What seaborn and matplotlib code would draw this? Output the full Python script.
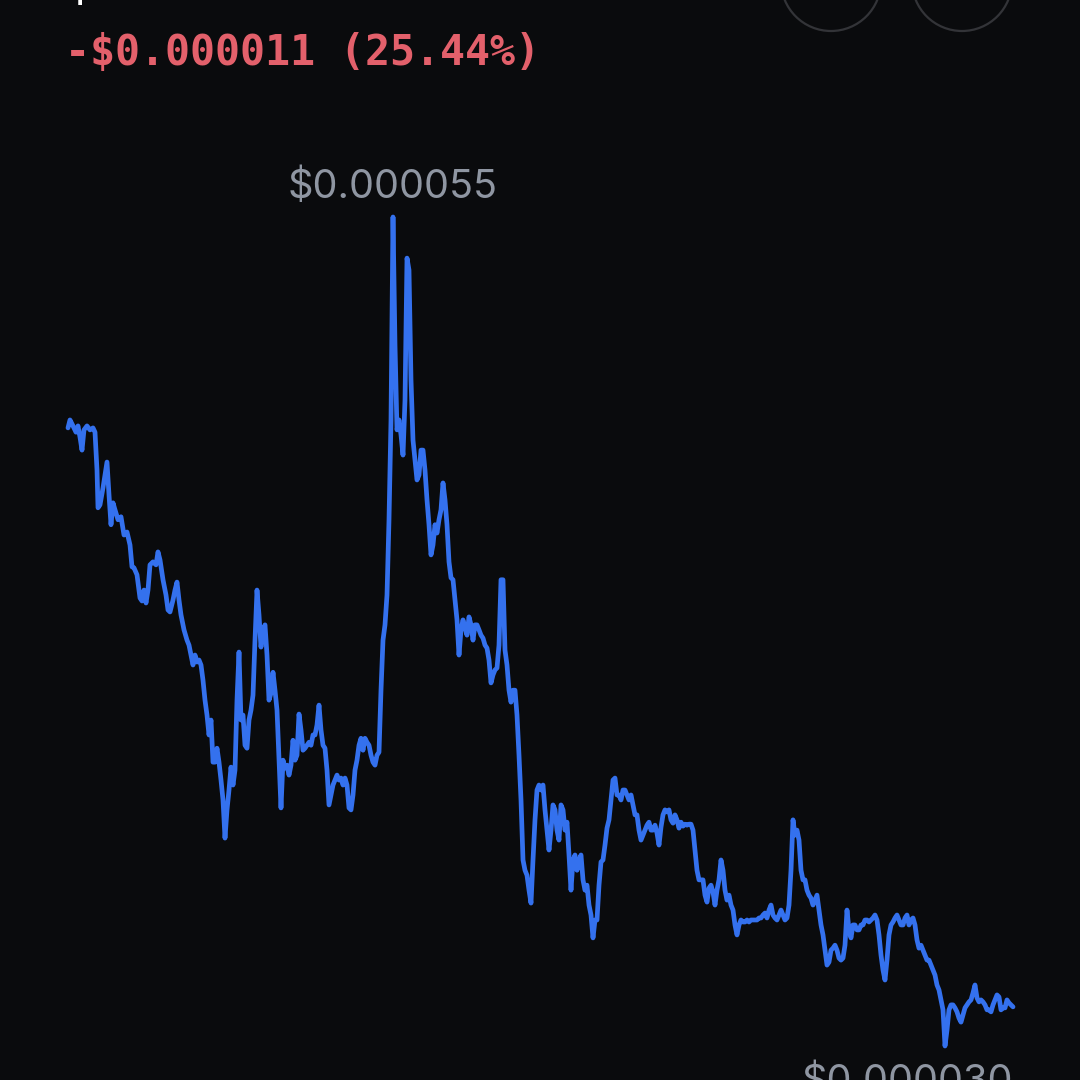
import seaborn as sns
import pandas as pd
import matplotlib.pyplot as plt
from matplotlib.patches import Circle

# price in micro-dollars (1e-6 USD) left to right
prices = [
    48.64, 48.88, 48.70, 48.51, 48.70, 48.36, 47.97, 48.58, 48.70, 48.58,
    48.64, 48.51, 47.37, 46.23, 46.32, 46.83, 47.22, 47.61, 46.62, 45.72,
    46.38, 46.17, 45.87, 45.96, 45.41, 45.50, 45.11, 44.45, 44.42, 44.21,
    43.51, 43.42, 43.75, 43.36, 43.75, 44.51, 44.60, 44.51, 44.90, 44.66,
    44.06, 43.60, 43.15, 43.09, 43.45, 43.75, 43.99, 43.45, 43.00, 42.55,
    42.24, 42.09, 41.79, 41.49, 41.79, 41.58, 41.64, 41.49, 41.03, 40.43,
    39.98, 39.38, 39.83, 38.56, 38.56, 38.98, 38.56, 38.02, 37.42, 36.27,
    37.12, 37.72, 38.41, 37.87, 38.32, 40.43, 41.88, 39.83, 39.98, 39.07,
    38.98, 39.83, 40.13, 40.58, 42.24, 43.75, 43.00, 42.03, 42.55, 42.70,
    41.79, 40.43, 40.64, 41.27, 40.73, 40.13, 38.62, 37.18, 38.62, 38.38,
    38.47, 38.17, 38.47, 39.22, 38.62, 38.77, 40.01, 39.53, 38.92, 38.98,
    39.07, 39.16, 39.07, 39.38, 39.38, 39.68, 40.28, 39.53, 39.07, 38.98,
    38.32, 37.27, 37.57, 37.87, 38.02, 38.17, 38.02, 38.08, 37.87, 38.08,
    37.87, 37.18, 37.12, 37.57, 38.32, 38.62, 39.07, 39.28, 38.92, 39.28,
    39.16, 39.07, 38.77, 38.56, 38.47, 38.77, 38.86, 40.73, 42.24, 42.70,
    43.60, 45.87, 48.88, 55.00, 51.14, 48.58, 48.88, 48.43, 47.82, 49.48,
    53.76, 53.40, 50.09, 48.27, 47.67, 47.07, 47.22, 47.97, 47.97, 47.37,
    46.47, 45.72, 44.81, 45.11, 45.72, 45.47, 45.87, 46.17, 46.98, 46.47,
    45.72, 44.60, 44.12, 44.06, 43.45, 42.85, 41.79, 42.55, 42.85, 42.61,
    42.39, 42.94, 42.70, 42.24, 42.70, 42.70, 42.55, 42.39, 42.30, 42.09,
    42.00, 41.64, 40.95, 41.19, 41.34, 41.40, 42.09, 44.06, 44.06, 41.94,
    41.49, 40.73, 40.37, 40.73, 40.73, 39.98, 38.77, 37.42, 35.61, 35.30,
    35.15, 34.70, 34.31, 35.61, 36.82, 37.72, 37.87, 37.72, 37.87, 37.12,
    36.51, 35.91, 36.51, 37.27, 37.12, 36.51, 36.21, 37.27, 37.12, 36.51,
    36.75, 35.76, 34.70, 35.61, 35.76, 35.30, 35.61, 35.76, 35.01, 34.70,
    34.85, 34.25, 33.95, 33.26, 33.80, 33.80, 34.85, 35.55, 35.61, 36.06,
    36.57, 36.82, 37.42, 38.02, 38.08, 37.57, 37.57, 37.42, 37.72, 37.72,
    37.57, 37.42, 37.57, 37.27, 36.97, 36.97, 36.51, 36.21, 36.36, 36.51,
    36.66, 36.75, 36.51, 36.51, 36.66, 36.42, 36.06, 36.60, 36.97, 37.12,
    37.06, 37.12, 36.82, 36.72, 36.97, 36.82, 36.57, 36.75, 36.63, 36.69,
    36.66, 36.69, 36.69, 36.51, 35.91, 35.30, 35.01, 35.01, 35.01, 34.55,
    34.34, 34.76, 34.85, 34.64, 34.25, 34.70, 35.01, 35.61, 35.30, 34.70,
    34.40, 34.55, 34.25, 34.10, 33.65, 33.35, 33.65, 33.80, 33.74, 33.74,
    33.80, 33.74, 33.80, 33.80, 33.80, 33.80, 33.86, 33.86, 33.95, 34.01,
    33.86, 34.10, 34.25, 33.95, 33.86, 33.80, 33.95, 34.10, 33.95, 33.80,
    33.86, 34.25, 35.30, 36.82, 36.36, 36.51, 36.21, 35.30, 35.01, 35.01,
    34.70, 34.55, 34.46, 34.25, 34.40, 34.55, 34.10, 33.65, 33.35, 32.89,
    32.44, 32.53, 32.89, 32.95, 33.04, 32.89, 32.65, 32.59, 32.65, 33.04,
    34.10, 33.50, 33.26, 33.65, 33.65, 33.50, 33.50, 33.65, 33.65, 33.80,
    33.80, 33.74, 33.80, 33.86, 33.95, 33.80, 33.35, 32.74, 32.29, 31.99,
    32.59, 33.35, 33.65, 33.74, 33.86, 33.95, 33.80, 33.65, 33.65, 33.86,
    33.95, 33.65, 33.80, 33.86, 33.65, 33.20, 32.95, 33.04, 32.89, 32.74,
    32.59, 32.59, 32.44, 32.29, 32.14, 31.84, 31.69, 31.39, 31.09, 30.00,
    30.48, 31.09, 31.24, 31.24, 31.15, 31.03, 30.84, 30.72, 30.93, 31.15,
    31.24, 31.33, 31.39, 31.60, 31.84, 31.45, 31.33, 31.39, 31.33, 31.24,
    31.09, 31.09, 31.03, 31.24, 31.39, 31.54, 31.48, 31.09, 31.15, 31.15,
    31.39, 31.30, 31.24, 31.18,
]
# sample times (arbitrary units); the early part was sampled less regularly
times_head = [
    0, 2, 5, 8, 10, 12, 14, 16, 19, 22, 25, 27, 29, 30, 32, 35, 37, 39, 41, 43,
    45, 47, 50, 53, 56, 59, 62, 64, 66, 69, 72, 74, 76, 78, 80, 82, 85, 88, 90, 92,
    95, 98, 100, 102, 105, 107, 109, 111, 113, 116, 119, 121, 123,
]
times = times_head + list(range(125, 946, 2))

change_abs = 0.000011
change_pct = 25.44

bg = '#0a0b0d'
line_color = '#3471ee'
label_color = '#8f96a2'

df = pd.DataFrame({'t': times, 'price': prices})

sns.set_style('dark', {'axes.facecolor': bg, 'figure.facecolor': bg})
plt.rcParams['font.family'] = ['Inter', 'DejaVu Sans']

fig = plt.figure(figsize=(10.8, 10.8), dpi=100)
fig.patch.set_facecolor(bg)
ax = fig.add_axes([68 / 1080, 34 / 1080, 945 / 1080, 829 / 1080])
ax.set_facecolor(bg)

sns.lineplot(x='t', y='price', data=df, ax=ax, color=line_color, linewidth=3.4,
             clip_on=False, solid_joinstyle='round', solid_capstyle='round')

lo, hi = min(prices), max(prices)
ax.set_xlim(times[0], times[-1])
ax.set_ylim(lo, hi)
ax.set_axis_off()

# high / low labels
i_hi = prices.index(hi)
i_lo = prices.index(lo)
ax.annotate(f'${hi * 1e-6:.6f}', xy=(times[i_hi], hi), xytext=(0, 14), textcoords='offset points',
            ha='center', va='baseline', fontsize=28.5, color=label_color, annotation_clip=False)
ax.annotate(f'${lo * 1e-6:.6f}', xy=(times[i_lo], lo), xytext=(49, -34), textcoords='offset points',
            ha='right', va='baseline', fontsize=28.5, color=label_color, annotation_clip=False)

# header: change over period
fig.text(65 / 1080, 1 - 53 / 1080, f'-${change_abs:.6f} ({change_pct:.2f}%)',
         family=['DejaVu Sans Mono'], fontsize=30, fontweight='bold', color='#e3606b',
         ha='left', va='center')
# bottom tail of the cut-off price title
fig.text(58 / 1080, 1 + 2 / 1080, '$', fontsize=46, color='white', ha='left', va='baseline',
         fontweight='bold')

# cut-off round buttons at top right
for cx in (831, 962):
    fig.patches.append(Circle((cx / 1080, 1 + 19 / 1080), 50 / 1080, transform=fig.transFigure,
                              fill=False, edgecolor='#333438', linewidth=1.6))

fig.savefig('out.png', dpi=100, facecolor=bg)
